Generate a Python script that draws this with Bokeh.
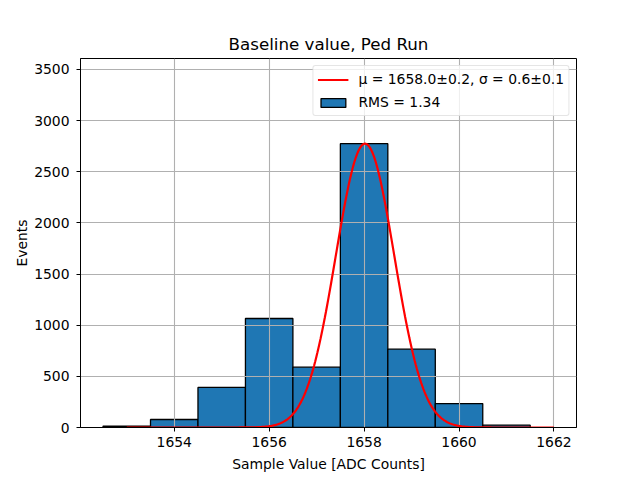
import numpy as np
from bokeh.plotting import figure
from bokeh.models import Range1d, FixedTicker, Legend, LegendItem
from bokeh.embed import file_html
from bokeh.resources import INLINE

# Histogram data
bin_left = [1652.5, 1653.5, 1654.5, 1655.5, 1656.5, 1657.5, 1658.5, 1659.5, 1660.5]
bin_right = [1653.5, 1654.5, 1655.5, 1656.5, 1657.5, 1658.5, 1659.5, 1660.5, 1661.5]
counts = [14, 78, 392, 1065, 590, 2774, 765, 234, 23]

# Gaussian fit parameters (fit model drawn as in the original)
fit_mu = 1658.02
fit_sigma = 0.615
fit_amp = 2774
fit_xmin, fit_xmax = 1653.0, 1662.0

x_ticks = [1654, 1656, 1658, 1660, 1662]
y_ticks = [0, 500, 1000, 1500, 2000, 2500, 3000, 3500]

title_text = "Baseline value, Ped Run"
x_label = "Sample Value [ADC Counts]"
y_label = "Events"
fit_label = "μ = 1658.0±0.2, σ = 0.6±0.1"
hist_label = "RMS = 1.34"

FONT = "DejaVu Sans"

p = figure(frame_width=496, frame_height=369,
           min_border_left=80, min_border_right=64,
           min_border_top=58, min_border_bottom=53,
           output_backend="svg", toolbar_location=None,
           x_range=Range1d(1652.025, 1662.475), y_range=Range1d(0, 3606),
           title=title_text)

p.background_fill_color = "white"
p.border_fill_color = "white"
p.outline_line_color = "black"
p.outline_line_width = 1

p.title.align = "center"
p.title.text_font = FONT
p.title.text_font_size = "16.7px"
p.title.text_font_style = "normal"
p.title.text_color = "black"

for ax in (p.xaxis[0], p.yaxis[0]):
    ax.axis_line_color = "black"
    ax.major_tick_line_color = "black"
    ax.major_tick_out = 4
    ax.major_tick_in = 0
    ax.minor_tick_line_color = None
    ax.major_label_text_font = FONT
    ax.major_label_text_font_size = "13.9px"
    ax.major_label_text_color = "black"
    ax.axis_label_text_font = FONT
    ax.axis_label_text_font_size = "13.9px"
    ax.axis_label_text_font_style = "normal"
    ax.axis_label_text_color = "black"

p.xaxis[0].ticker = FixedTicker(ticks=x_ticks)
p.yaxis[0].ticker = FixedTicker(ticks=y_ticks)
p.xaxis[0].axis_label = x_label
p.yaxis[0].axis_label = y_label
p.xaxis[0].major_label_standoff = 5
p.yaxis[0].major_label_standoff = 7
p.xaxis[0].axis_label_standoff = 6
p.yaxis[0].axis_label_standoff = 1

for g in (p.xgrid[0], p.ygrid[0]):
    g.grid_line_color = "#b0b0b0"
    g.grid_line_width = 1.1
    g.ticker = FixedTicker(ticks=x_ticks if g is p.xgrid[0] else y_ticks)

bars = p.quad(left=bin_left, right=bin_right, bottom=0, top=counts,
              fill_color="#1f77b4", line_color="black", line_width=1.3,
              level="image")

fx = np.linspace(fit_xmin, fit_xmax, 400)
fy = fit_amp * np.exp(-0.5 * ((fx - fit_mu) / fit_sigma) ** 2)
fit_line = p.line(fx, fy, line_color="red", line_width=2.2)

legend = Legend(items=[LegendItem(label=fit_label, renderers=[fit_line]),
                       LegendItem(label=hist_label, renderers=[bars])],
                location="top_right")
legend.margin = 7
legend.padding = 4
legend.spacing = 5
legend.label_height = 18
legend.glyph_width = 31
legend.glyph_height = 11
legend.label_standoff = 10
legend.label_text_font = FONT
legend.label_text_font_size = "13.9px"
legend.label_text_color = "black"
legend.border_line_color = "#cccccc"
legend.border_line_width = 1
legend.background_fill_alpha = 0.8
legend.border_radius = 3
p.add_layout(legend, "center")

open("out.html", "w").write(file_html(p, INLINE))
